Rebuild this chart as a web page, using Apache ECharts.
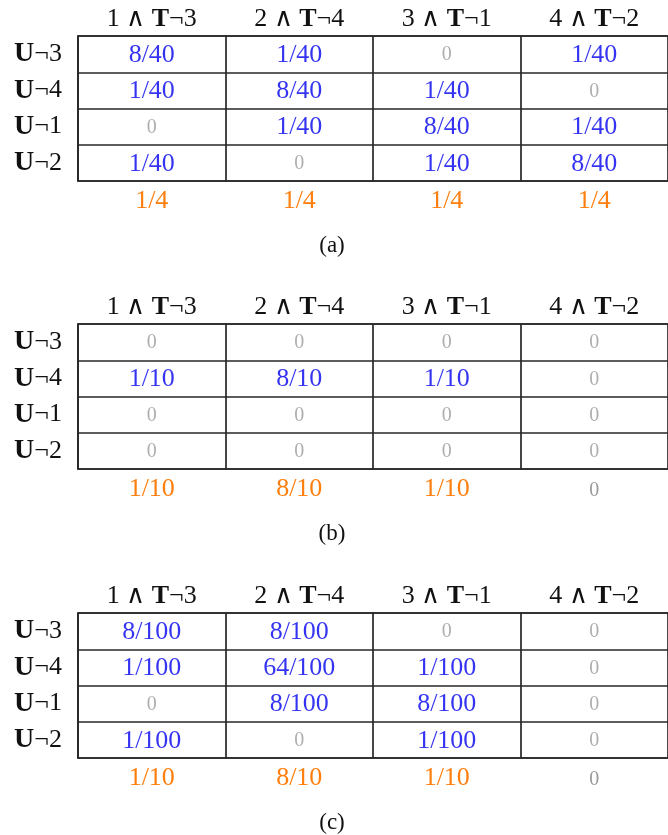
<!DOCTYPE html>
<html><head><meta charset="utf-8">
<script src="https://cdn.jsdelivr.net/npm/echarts@6/dist/echarts.min.js"></script>
<style>html,body{margin:0;padding:0;background:#fff}#c{width:668px;height:835px}</style>
</head><body><div id="c"></div>
<script>
// ---- data ----
const colLeft = ['1', '2', '3', '4'];
const colRight = ['3', '4', '1', '2'];
const rowLabels = ['3', '4', '1', '2'];
const captions = ['(a)', '(b)', '(c)'];
const cellsA = [
  ['8/40', '1/40', '0', '1/40'],
  ['1/40', '8/40', '1/40', '0'],
  ['0', '1/40', '8/40', '1/40'],
  ['1/40', '0', '1/40', '8/40']
];
const margA = ['1/4', '1/4', '1/4', '1/4'];
const cellsB = [
  ['0', '0', '0', '0'],
  ['1/10', '8/10', '1/10', '0'],
  ['0', '0', '0', '0'],
  ['0', '0', '0', '0']
];
const margB = ['1/10', '8/10', '1/10', '0'];
const cellsC = [
  ['8/100', '8/100', '0', '0'],
  ['1/100', '64/100', '1/100', '0'],
  ['0', '8/100', '8/100', '0'],
  ['1/100', '0', '1/100', '0']
];
const margC = ['1/10', '8/10', '1/10', '0'];

// ---- layout / style ----
const FONT = 'Liberation Serif';
const LINE = '#262626';
const BLUE = '#0000ee';
const ORANGE = '#ff7f0e';
const GREY = '#9a9a9a';
const FS = 26;
const ZFS = 20;
const tables = [
  { cells: cellsA, marg: margA, top: 36 },
  { cells: cellsB, marg: margB, top: 324 },
  { cells: cellsC, marg: margC, top: 613 }
];
const headers = colLeft.map((a, i) => a + ' \u2227 ' + '\u0000' + colRight[i]);

const grids = [], xAxes = [], yAxes = [], series = [], titles = [];
tables.forEach((t, i) => {
  grids.push({ left: 78, top: t.top, width: 596, height: 145, containLabel: false });
  // bottom axis: marginals
  xAxes.push({
    type: 'category', gridIndex: i, position: 'bottom', data: t.marg,
    axisLine: { show: true, lineStyle: { color: LINE, width: 1.7 } },
    axisTick: { show: false },
    splitLine: { show: true, lineStyle: { color: LINE, width: 1.7 } },
    axisLabel: {
      interval: 0, margin: 7,
      formatter: v => v === '0' ? '{z|0}' : '{o|' + v + '}',
      rich: {
        o: { fontFamily: FONT, fontSize: FS, color: ORANGE },
        z: { fontFamily: FONT, fontSize: ZFS, color: GREY, padding: [5, 0, 0, 0] }
      }
    }
  });
  // top axis: headers
  xAxes.push({
    type: 'category', gridIndex: i, position: 'top', data: headers,
    axisLine: { show: true, lineStyle: { color: LINE, width: 1.7 } },
    axisTick: { show: false },
    splitLine: { show: false },
    axisLabel: {
      interval: 0, margin: 4,
      formatter: v => { const p = v.split('\u0000'); return '{n|' + p[0] + '}{b|T}{n|\u00ac' + p[1] + '}'; },
      rich: {
        n: { fontFamily: FONT, fontSize: FS, color: '#111' },
        b: { fontFamily: FONT, fontSize: FS, color: '#111', fontWeight: 'bold' }
      }
    }
  });
  yAxes.push({
    type: 'category', gridIndex: i, data: rowLabels, inverse: true,
    axisLine: { show: true, lineStyle: { color: LINE, width: 1.7 } },
    axisTick: { show: false },
    splitLine: { show: true, lineStyle: { color: LINE, width: 1.7 } },
    axisLabel: {
      interval: 0, margin: 16,
      formatter: v => '{b|U}{n|\u00ac' + v + '}',
      rich: {
        n: { fontFamily: FONT, fontSize: FS, color: '#111' },
        b: { fontFamily: FONT, fontSize: 28, color: '#111', fontWeight: 'bold' }
      }
    }
  });
  const data = [];
  t.cells.forEach((row, r) => row.forEach((v, c) => data.push([c, r, v])));
  series.push({
    type: 'scatter', xAxisIndex: 2 * i, yAxisIndex: i, data: data,
    symbolSize: 1, itemStyle: { color: 'rgba(0,0,0,0)' }, silent: true,
    label: {
      show: true, position: 'inside',
      formatter: p => p.data[2] === '0' ? '{z|0}' : '{v|' + p.data[2] + '}',
      rich: {
        v: { fontFamily: FONT, fontSize: FS, color: BLUE, padding: [2, 0, 0, 0] },
        z: { fontFamily: FONT, fontSize: ZFS, color: GREY, padding: [2, 0, 0, 0] }
      }
    }
  });
  titles.push({
    text: captions[i], left: 327, top: t.top + 193, textAlign: 'center',
    textStyle: { fontFamily: FONT, fontSize: 23, fontWeight: 'normal', color: '#111' }
  });
});

const chart = echarts.init(document.getElementById('c'), null, { renderer: 'canvas' });
chart.setOption({
  animation: false,
  backgroundColor: '#fff',
  title: titles,
  grid: grids,
  xAxis: xAxes,
  yAxis: yAxes,
  series: series
});
</script>
</body></html>
